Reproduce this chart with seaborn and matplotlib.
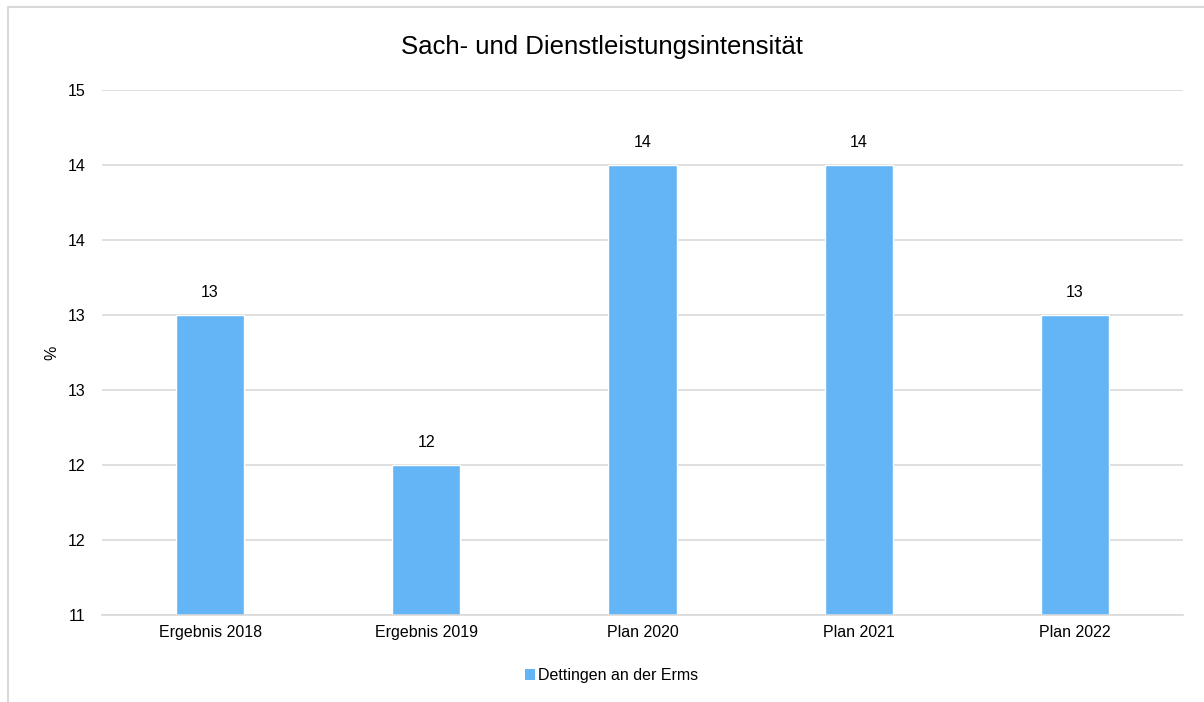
import matplotlib
matplotlib.use("Agg")
import matplotlib.pyplot as plt
import seaborn as sns
import pandas as pd
from matplotlib.patches import Rectangle, Patch

# Data
categories = ["Ergebnis 2018", "Ergebnis 2019", "Plan 2020", "Plan 2021", "Plan 2022"]
values = [13, 12, 14, 14, 13]
series_name = "Dettingen an der Erms"
y_ticks = [11, 11.5, 12, 12.5, 13, 13.5, 14, 14.5]

df = pd.DataFrame({"category": categories, "value": values})


def excel_round(v):
    # round half away from zero, like the source chart
    return str(int(v + 0.5))


sns.set_style("white")
plt.rcParams["font.family"] = ["Liberation Sans", "DejaVu Sans"]
plt.rcParams["text.color"] = "#000000"

bar_color = "#64B5F6"
fs = 11.5

fig = plt.figure(figsize=(12.04, 7.02), dpi=100)
ax = fig.add_axes([0.0847, 0.1239, 0.8979, 0.7479])

sns.barplot(data=df, x="category", y="value", color=bar_color, width=0.315,
            saturation=1, ax=ax, zorder=2)

ax.set_ylim(11, 14.5)
ax.set_yticks(y_ticks)
ax.set_yticklabels([excel_round(t) for t in y_ticks])
ax.grid(axis="y", color="#d9d9d9", linewidth=1.2, zorder=0)
ax.set_axisbelow(True)
for side in ["top", "right", "left"]:
    ax.spines[side].set_visible(False)
ax.spines["bottom"].set_color("#d9d9d9")
ax.spines["bottom"].set_linewidth(1.2)
ax.tick_params(axis="both", length=0, labelsize=fs, colors="#000000")
ax.tick_params(axis="y", pad=12)
ax.tick_params(axis="x", pad=7)
ax.set_xlabel("")
ax.set_ylabel("%", fontsize=fs, labelpad=6, color="#000000")

# data labels
for container in ax.containers:
    ax.bar_label(container, labels=[excel_round(v) for v in values],
                 padding=11, fontsize=fs, color="#000000")

fig.suptitle("Sach- und Dienstleistungsintensität", fontsize=18.5, y=0.95,
             color="#000000")

handles = [Patch(facecolor=bar_color, edgecolor="none", label=series_name)]
fig.legend(handles=handles, loc="center", bbox_to_anchor=(0.508, 0.038),
           frameon=False, fontsize=fs, handlelength=0.65, handleheight=0.65,
           handletextpad=0.2)

# outer frame
fig.patches.append(Rectangle((8 / 1204, -0.1), 1.2, (702 - 7) / 702 + 0.1,
                             transform=fig.transFigure, fill=False,
                             edgecolor="#d9d9d9", linewidth=1.5))

fig.savefig("out.png", dpi=100)
